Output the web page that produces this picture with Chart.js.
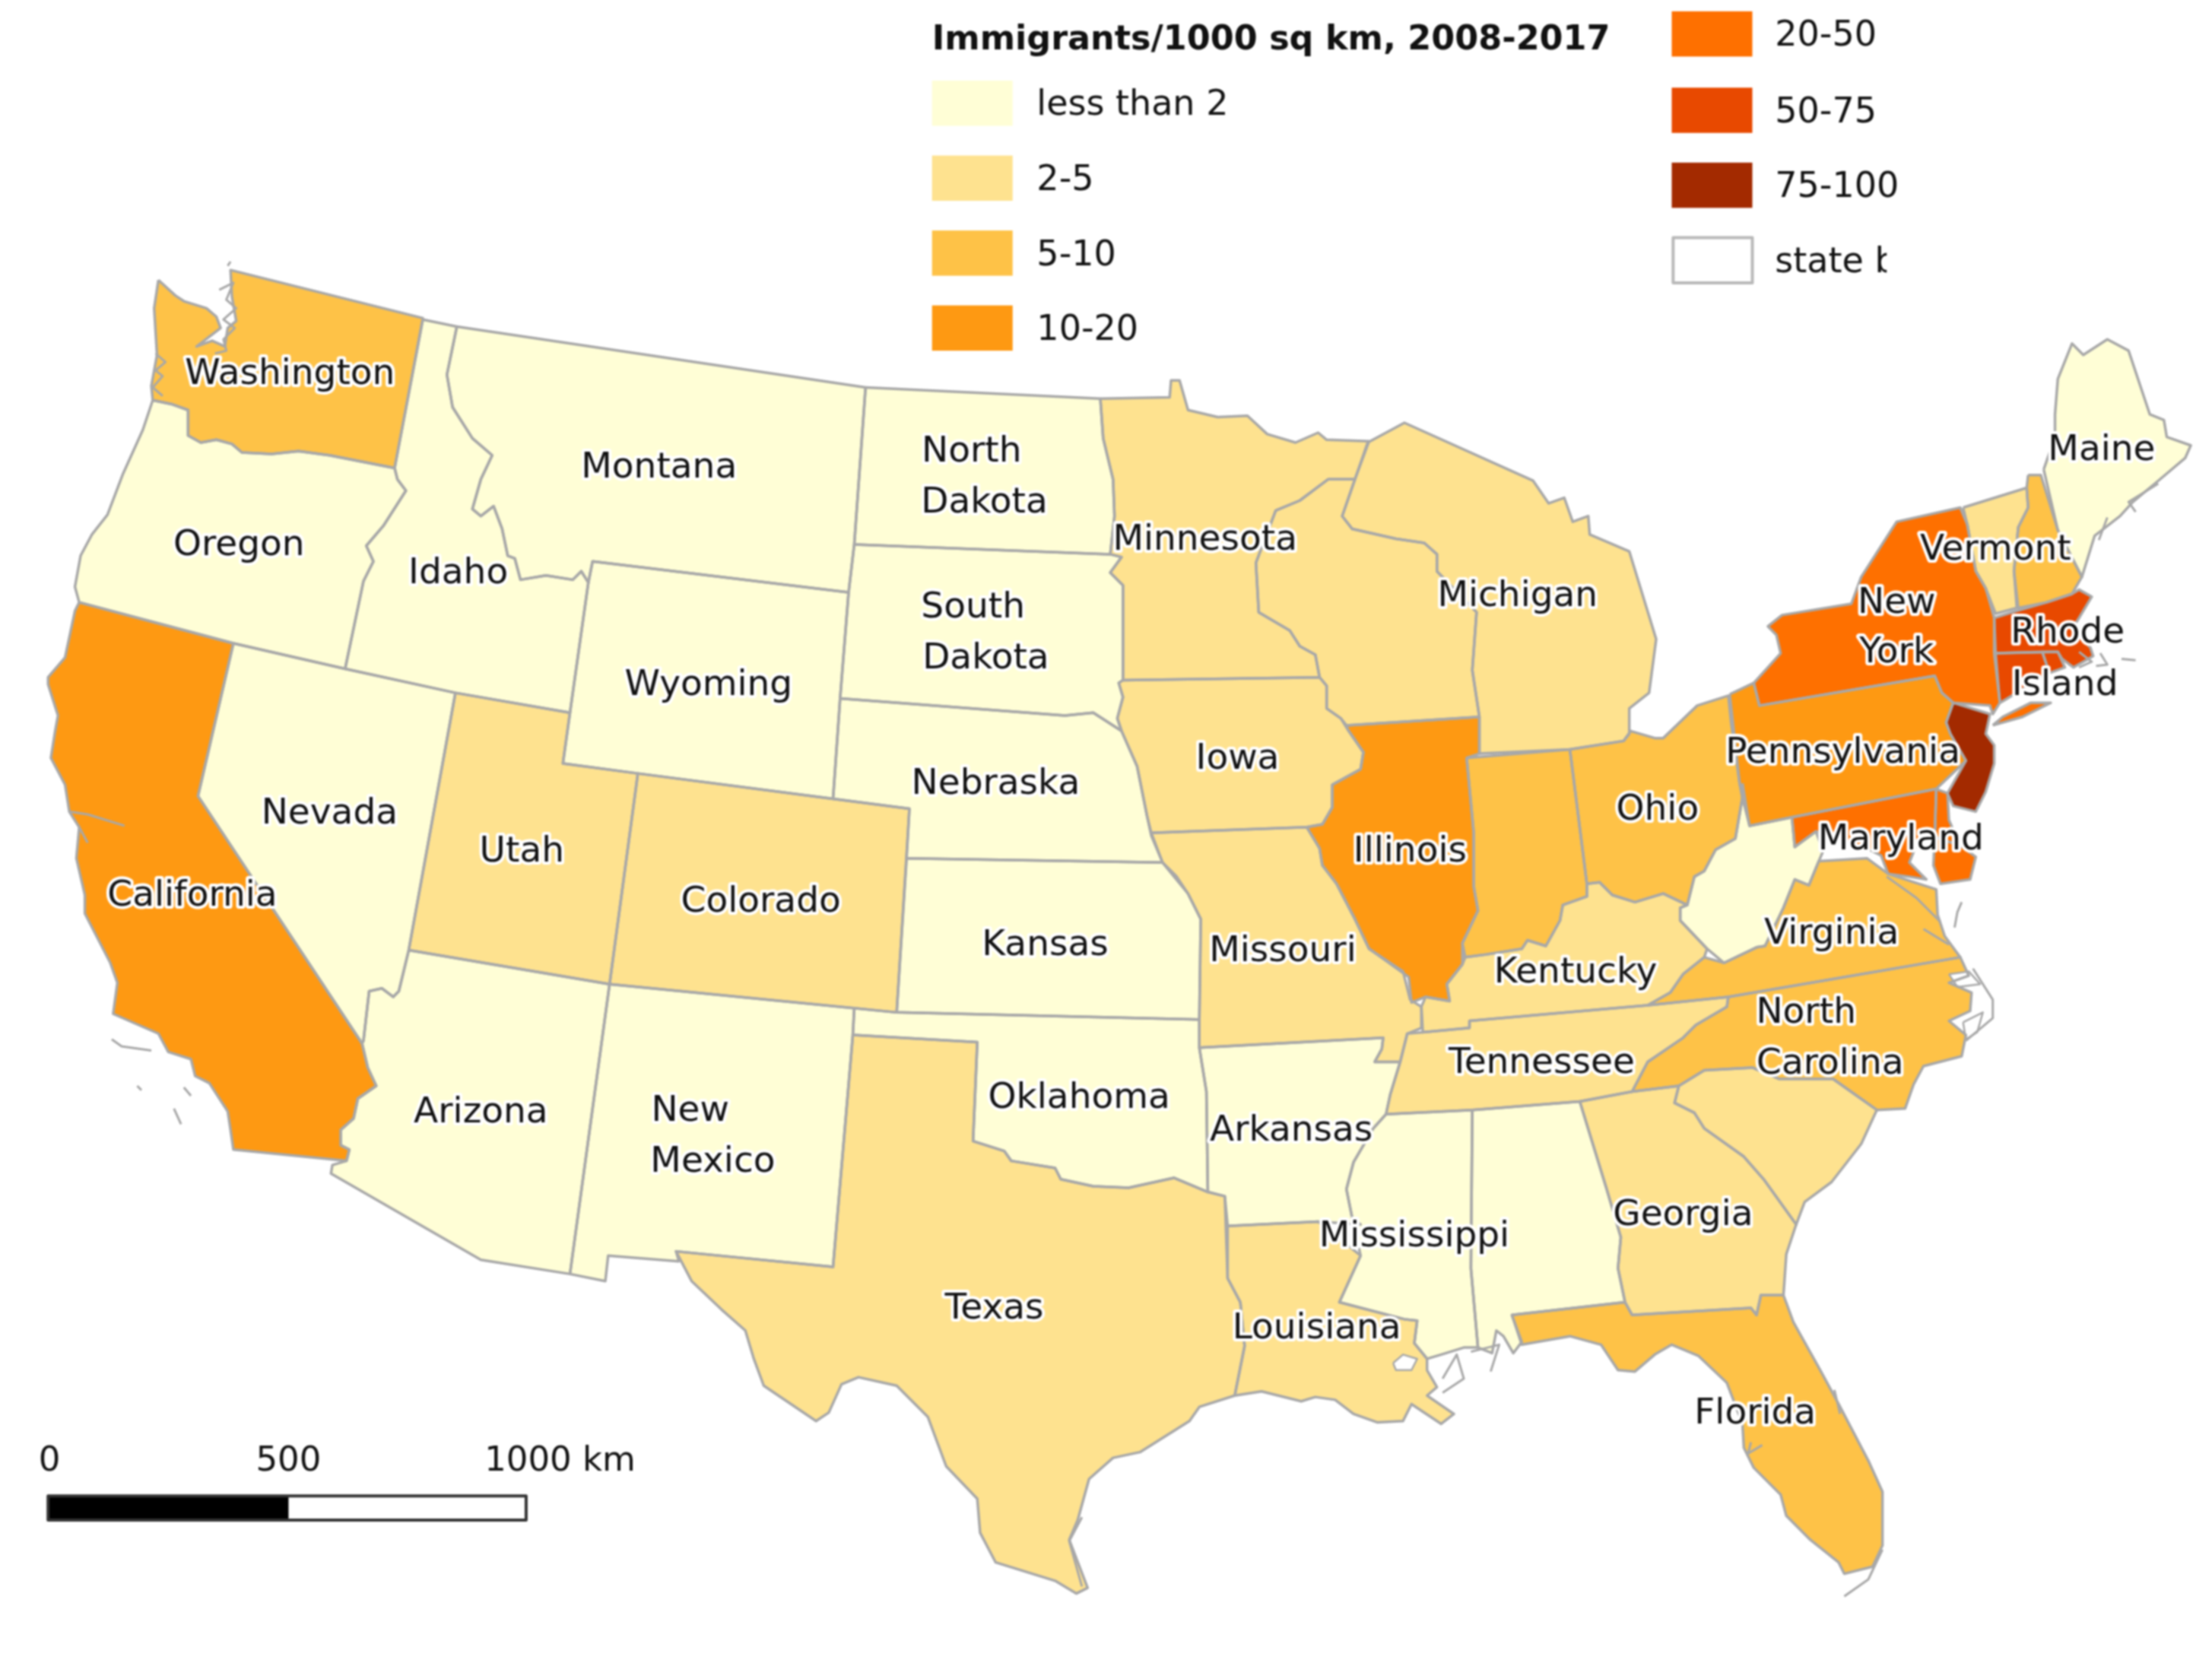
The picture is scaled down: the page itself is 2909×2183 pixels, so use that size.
<!DOCTYPE html>
<html>
<head>
<meta charset="utf-8">
<title>Immigrants/1000 sq km, 2008-2017</title>
<script src="https://cdn.jsdelivr.net/npm/chart.js@4/dist/chart.umd.min.js"></script>
<style>
html, body { margin: 0; padding: 0; background: #fff; }
canvas { display: block; filter: blur(1px); }
</style>
</head>
<body>
<canvas id="myChart" width="2909" height="2183" style="width:2909px;height:2183px"></canvas>
<script>
// legend classes
var classNames = ["less than 2", "2-5", "5-10", "10-20", "20-50", "50-75", "75-100"];
var classColors = ["#fffed6", "#fee28f", "#fec247", "#fe9912", "#fe7000", "#e84900", "#a32a00"];

// state outlines (map units, y down)
var washington = [[112,198],[124,209],[130,213],[146,218],[153,224],[156,232],[139,245],[150,241],[159,245],[161,232],[167,227],[164,210],[163,191],[299,225],[279,331],[233,322],[211,319],[192,321],[171,320],[164,314],[153,311],[142,313],[133,308],[133,290],[122,286],[108,283],[107,273],[111,251],[109,218]];
var oregon = [[108,283],[122,286],[133,290],[133,308],[142,313],[153,311],[164,314],[171,320],[192,321],[211,319],[233,322],[279,331],[281,339],[287,347],[271,372],[259,386],[264,397],[257,411],[244,473],[165,455],[56,426],[53,415],[57,393],[65,378],[76,364],[87,335],[101,304]];
var california = [[56,426],[165,455],[140,563],[256,738],[260,755],[266,768],[253,777],[250,791],[241,799],[241,810],[247,813],[245,821],[165,813],[163,799],[161,786],[148,766],[138,761],[135,749],[119,744],[112,731],[80,717],[83,695],[78,681],[60,646],[60,633],[54,607],[56,585],[49,574],[46,555],[36,536],[39,517],[41,506],[34,484],[34,479],[46,465],[53,432]];
var nevada = [[165,455],[244,473],[322,490],[289,672],[282,701],[278,705],[270,699],[261,701],[257,736],[256,738],[140,563]];
var idaho = [[299,226],[323,231],[316,265],[320,288],[334,310],[348,322],[340,339],[334,360],[340,365],[349,358],[355,374],[359,393],[364,395],[368,410],[386,407],[405,410],[411,404],[416,412],[403,504],[322,490],[244,473],[257,411],[264,397],[259,386],[271,372],[287,347],[281,339],[279,331]];
var montana = [[323,231],[612,274],[604,385],[600,419],[419,397],[416,412],[411,404],[405,410],[386,407],[368,410],[364,395],[359,393],[355,374],[349,358],[340,365],[334,360],[340,339],[348,322],[334,310],[320,288],[316,265]];
var wyoming = [[419,397],[600,419],[594,494],[589,565],[451,547],[398,540],[403,504],[416,412]];
var utah = [[322,490],[403,504],[398,540],[451,547],[431,696],[289,672]];
var colorado = [[451,547],[589,565],[643,572],[634,716],[431,696]];
var arizona = [[289,672],[431,696],[403,901],[340,891],[234,830],[235,824],[245,821],[247,813],[241,810],[241,799],[250,791],[253,777],[266,768],[260,755],[256,738],[257,736],[261,701],[270,699],[278,705],[282,701]];
var newMexico = [[431,696],[604,713],[603,732],[589,896],[478,885],[480,892],[430,888],[428,906],[403,901]];
var texas = [[603,732],[691,737],[688,807],[710,814],[715,821],[746,826],[750,834],[773,839],[798,840],[830,833],[854,843],[866,846],[868,904],[877,921],[880,952],[873,987],[848,995],[841,1005],[806,1027],[787,1031],[770,1046],[762,1075],[756,1089],[769,1123],[761,1127],[746,1118],[704,1105],[693,1084],[691,1060],[669,1037],[656,1002],[634,980],[607,974],[595,979],[586,999],[577,1005],[540,980],[533,961],[527,941],[510,926],[489,906],[478,885],[589,896]];
var oklahoma = [[604,713],[634,716],[848,721],[848,741],[853,772],[854,843],[830,833],[798,840],[773,839],[750,834],[746,826],[715,821],[710,814],[688,807],[691,737],[603,732]];
var kansas = [[641,607],[822,610],[832,620],[840,632],[849,650],[848,721],[634,716]];
var northDakota = [[612,274],[778,282],[780,310],[787,339],[788,365],[785,392],[604,385]];
var southDakota = [[604,385],[785,392],[793,394],[785,405],[794,414],[794,481],[791,483],[794,493],[790,508],[793,517],[773,504],[753,506],[594,494],[600,419]];
var nebraska = [[594,494],[753,506],[773,504],[793,517],[804,542],[811,577],[814,591],[822,610],[641,607],[643,572],[589,565]];
var minnesota = [[778,282],[827,281],[828,269],[834,269],[840,290],[861,295],[882,294],[896,307],[916,313],[932,306],[938,311],[968,312],[958,339],[939,339],[919,354],[902,361],[888,398],[890,433],[912,446],[919,457],[930,463],[933,479],[794,481],[794,414],[785,405],[793,394],[785,392],[788,365],[787,339],[780,310]];
var wisconsin = [[939,339],[958,339],[949,365],[956,374],[987,381],[1007,384],[1016,392],[1016,404],[1044,433],[1041,474],[1046,507],[952,513],[948,508],[938,501],[938,485],[933,479],[930,463],[919,457],[912,446],[890,433],[888,398],[902,361],[919,354]];
var michigan = [[967,313],[993,299],[1084,340],[1095,356],[1106,352],[1112,369],[1123,365],[1124,378],[1152,390],[1171,452],[1166,490],[1152,501],[1152,519],[1148,524],[1110,530],[1046,533],[1046,507],[1041,474],[1044,433],[1016,404],[1016,392],[1007,384],[987,381],[956,374],[949,365],[958,339]];
var iowa = [[794,481],[933,479],[938,485],[938,501],[948,508],[953,516],[964,532],[962,544],[942,555],[942,571],[935,583],[924,585],[814,589],[811,577],[804,542],[793,517],[790,508],[794,493],[791,483]];
var missouri = [[814,589],[924,585],[933,600],[935,612],[945,625],[958,650],[968,671],[992,687],[997,707],[1005,712],[1005,727],[995,731],[990,751],[972,751],[977,742],[978,734],[848,741],[848,721],[849,650],[840,632],[822,610]];
var illinois = [[952,513],[1046,507],[1046,533],[1037,536],[1042,589],[1042,627],[1045,644],[1034,667],[1034,682],[1023,696],[1025,708],[1008,705],[998,709],[996,691],[968,671],[958,650],[945,625],[935,612],[933,600],[924,585],[935,583],[942,571],[942,555],[962,544],[964,532],[953,516]];
var indiana = [[1037,536],[1110,530],[1122,625],[1122,634],[1105,640],[1103,651],[1093,669],[1080,665],[1076,671],[1051,675],[1036,677],[1034,667],[1045,644],[1042,627],[1042,589]];
var ohio = [[1110,530],[1148,524],[1153,517],[1170,522],[1176,522],[1200,499],[1222,492],[1224,511],[1230,554],[1232,564],[1227,593],[1213,601],[1205,616],[1198,620],[1193,640],[1176,632],[1156,638],[1140,633],[1131,624],[1122,625]];
var kentucky = [[1122,625],[1131,624],[1140,633],[1156,638],[1176,632],[1193,640],[1188,642],[1188,651],[1207,671],[1205,677],[1190,689],[1181,702],[1165,711],[1039,722],[1039,727],[1006,730],[1005,712],[1008,705],[1025,708],[1023,696],[1034,682],[1036,677],[1051,675],[1076,671],[1080,665],[1093,669],[1103,651],[1105,640],[1122,634]];
var tennessee = [[1006,730],[1039,727],[1039,722],[1165,711],[1222,705],[1221,712],[1199,725],[1190,734],[1165,751],[1154,772],[1117,779],[1041,785],[980,788],[983,774],[990,751],[995,731]];
var northCarolina = [[1222,705],[1386,677],[1392,690],[1378,695],[1394,702],[1393,715],[1378,722],[1390,732],[1387,747],[1360,754],[1353,767],[1347,784],[1327,785],[1296,763],[1258,763],[1239,755],[1205,757],[1187,768],[1154,772],[1165,751],[1190,734],[1199,725],[1221,712]];
var southCarolina = [[1187,768],[1205,757],[1239,755],[1258,763],[1296,763],[1327,785],[1316,809],[1295,836],[1276,850],[1270,866],[1247,834],[1233,818],[1205,798],[1198,787],[1184,780]];
var georgia = [[1117,779],[1154,772],[1187,768],[1184,780],[1198,787],[1205,798],[1233,818],[1247,834],[1270,866],[1263,887],[1261,916],[1245,916],[1242,930],[1238,925],[1154,930],[1149,921],[1144,897],[1146,875],[1136,841]];
var alabama = [[1041,785],[1117,779],[1136,841],[1146,875],[1144,897],[1149,921],[1069,930],[1076,949],[1070,957],[1063,945],[1058,941],[1055,957],[1045,953],[1040,897]];
var mississippi = [[980,788],[1041,785],[1040,897],[1045,953],[1035,953],[1019,958],[1009,961],[1000,950],[1002,934],[993,933],[947,921],[962,888],[956,861],[952,841],[957,822],[971,798]];
var louisiana = [[868,867],[932,864],[962,888],[947,921],[993,933],[1002,934],[1000,950],[1009,961],[1009,969],[1016,981],[1009,987],[1028,1000],[1019,1007],[998,993],[992,1005],[974,1006],[957,1000],[944,990],[930,988],[920,991],[892,984],[873,987],[880,952],[877,921],[868,904]];
var arkansas = [[848,741],[978,734],[977,742],[972,751],[990,751],[983,774],[980,788],[971,798],[957,822],[952,841],[956,861],[962,866],[932,864],[868,867],[866,846],[854,843],[853,772]];
var florida = [[1069,930],[1149,921],[1154,930],[1238,925],[1242,930],[1245,916],[1261,916],[1268,935],[1287,969],[1300,993],[1321,1033],[1331,1055],[1331,1093],[1324,1108],[1304,1113],[1300,1105],[1280,1089],[1263,1072],[1259,1057],[1240,1038],[1233,1024],[1232,1007],[1221,978],[1201,959],[1182,951],[1170,958],[1156,970],[1144,969],[1132,951],[1110,945],[1076,951]];
var virginia = [[1165,711],[1181,702],[1190,689],[1205,677],[1219,681],[1242,670],[1248,669],[1261,642],[1269,622],[1279,626],[1286,609],[1320,607],[1335,618],[1369,629],[1370,647],[1375,662],[1386,677],[1222,705]];
var westVirginia = [[1232,554],[1237,584],[1267,578],[1269,599],[1284,588],[1289,602],[1286,609],[1279,626],[1269,622],[1261,642],[1248,669],[1242,670],[1219,681],[1207,671],[1188,651],[1188,642],[1193,640],[1198,620],[1205,616],[1213,601],[1227,593],[1232,564]];
var pennsylvania = [[1223,491],[1240,483],[1244,499],[1368,478],[1373,490],[1381,497],[1376,511],[1379,519],[1390,538],[1369,558],[1267,578],[1237,584],[1232,564],[1230,554]];
var newYork = [[1240,483],[1259,462],[1256,449],[1250,443],[1260,435],[1309,427],[1316,408],[1341,369],[1386,359],[1391,371],[1397,404],[1404,416],[1410,437],[1410,462],[1414,497],[1409,505],[1407,499],[1381,497],[1373,490],[1368,478],[1244,499]];
var longIsland = [[1409,513],[1416,507],[1436,497],[1450,497],[1430,507]];
var vermont = [[1388,359],[1433,345],[1434,359],[1427,373],[1424,404],[1426,430],[1411,434],[1404,416],[1397,404],[1391,371]];
var newHampshire = [[1434,336],[1443,336],[1455,375],[1472,408],[1465,420],[1447,426],[1427,430],[1424,404],[1427,373],[1434,359],[1433,345]];
var maine = [[1445,332],[1453,309],[1453,293],[1455,268],[1465,243],[1473,251],[1490,240],[1505,248],[1520,293],[1530,297],[1532,309],[1549,315],[1545,324],[1526,340],[1508,355],[1499,365],[1481,379],[1472,408],[1455,375]];
var massachusetts = [[1410,437],[1426,432],[1447,426],[1465,420],[1470,417],[1479,422],[1470,437],[1465,445],[1478,458],[1480,464],[1466,472],[1458,466],[1455,461],[1411,462]];
var connecticut = [[1411,462],[1444,461],[1449,476],[1416,496],[1414,497]];
var rhodeIsland = [[1444,461],[1455,461],[1460,472],[1449,476]];
var newJersey = [[1381,497],[1407,505],[1404,519],[1410,527],[1410,540],[1404,560],[1397,574],[1381,570],[1377,561],[1390,538],[1379,519],[1376,511]];
var delaware = [[1369,558],[1377,561],[1378,580],[1386,598],[1368,592]];
var maryland = [[1267,578],[1369,558],[1368,592],[1358,590],[1350,610],[1362,622],[1350,620],[1335,618],[1330,605],[1320,600],[1284,588],[1269,599]];
var marylandShore = [[1368,592],[1386,598],[1397,606],[1393,622],[1372,625],[1367,612]];

var stateOutlines = [washington, oregon, california, nevada, idaho, montana, wyoming, utah, colorado, arizona, newMexico, texas, oklahoma, kansas, northDakota, southDakota, nebraska, minnesota, wisconsin, michigan, iowa, missouri, illinois, indiana, ohio, kentucky, tennessee, northCarolina, southCarolina, georgia, alabama, mississippi, louisiana, arkansas, florida, virginia, westVirginia, pennsylvania, newYork, longIsland, vermont, newHampshire, maine, massachusetts, connecticut, rhodeIsland, newJersey, delaware, maryland, marylandShore];
// class index per outline, same order as above
var stateClasses = [2, 0, 3, 0, 0, 0, 0, 1, 1, 0, 0, 1, 0, 0, 0, 0, 0, 1, 1, 1, 1, 1, 3, 2, 2, 1, 1, 2, 1, 1, 0, 0, 1, 0, 2, 2, 0, 3, 4, 4, 1, 2, 0, 5, 5, 5, 6, 4, 4, 4];

// lakes and sounds that stay white
var waterBodies = [
  [[985,964],[992,958],[1002,961],[998,969],[987,969]],
  [[1378,689],[1392,687],[1400,696],[1384,698]],
  [[1388,723],[1402,716],[1398,730],[1390,735]]
];
// thin grey shoreline bits: sounds, bays, outer banks, islands
var shoreLines = [
  [[155,205],[165,200],[160,212],[167,218],[158,226],[166,232],[158,240],[160,248],[152,250]],
  [[163,185],[161,188]],
  [[110,250],[117,256],[110,262],[115,266],[108,274],[115,280]],
  [[49,574],[62,576],[88,584]],[[56,585],[62,596]],
  [[79,735],[86,740],[107,743]],[[97,768],[100,771]],[[130,769],[135,775]],[[123,784],[128,795]],
  [[1395,685],[1409,707],[1409,720],[1390,736]],
  [[1387,638],[1384,645],[1382,656]],
  [[1334,620],[1355,635],[1372,652]],[[1360,657],[1378,668]],
  [[1470,461],[1479,468],[1470,472]],[[1485,462],[1490,470],[1482,471]],[[1500,466],[1510,467]],
  [[1526,342],[1505,355],[1510,362]],[[1490,366],[1484,382]],
  [[765,1073],[756,1090],[765,1122]],
  [[1040,956],[1060,951],[1054,970]],[[1020,975],[1030,958],[1035,975],[1020,985]],
  [[1297,983],[1301,1000]],[[1238,1020],[1236,1028],[1246,1022]],[[1331,1096],[1321,1117],[1304,1129]]
];

// state names with the map position of each text line
var labelTexts = ["Washington","Oregon","Idaho","Montana","North","Dakota","South","Dakota","Wyoming","Nevada","Utah","Colorado","California","Nebraska","Kansas","Minnesota","Iowa","Missouri","Illinois","Michigan","Arizona","New","Mexico","Oklahoma","Texas","Arkansas","Louisiana","Mississippi","Georgia","Florida","Tennessee","Kentucky","Ohio","Pennsylvania","Maryland","Virginia","North","Carolina","New","York","Vermont","Maine","Rhode","Island"];
var labelX = [205,169,324,466,687,696,688,697,501,233,369,538,136,704,739,852,875,907,997,1073,340,488,504,763,703,913,931,1000,1190,1241,1090,1114,1172,1303,1344,1295,1277,1294,1341,1341,1411,1486,1462,1460];
var labelY = [265,386,406,331,320,356,430,466,485,576,603,638,634,555,669,382,537,673,603,422,787,786,822,777,926,800,940,875,860,1000,752,688,573,533,594,661,717,753,427,462,389,319,448,485];

var legendTitle = "Immigrants/1000 sq km, 2008-2017";
var boundaryLabel = "state b";
var scaleLabels = ["0", "500", "1000 km"];

function toPoints(pairs) {
  var pts = pairs.map(function (p) { return {x: p[0], y: p[1]}; });
  pts.push({x: pairs[0][0], y: pairs[0][1]});
  return pts;
}

var datasets = [];

waterBodies.forEach(function (w) {
  datasets.push({data: toPoints(w), showLine: true, fill: "shape", backgroundColor: "#ffffff",
    borderColor: "#a8a8a8", borderWidth: 2.5, pointRadius: 0, borderJoinStyle: "round"});
});
shoreLines.forEach(function (s) {
  datasets.push({data: s.map(function (p) { return {x: p[0], y: p[1]}; }), showLine: true, fill: false,
    borderColor: "#a8a8a8", borderWidth: 3, pointRadius: 0, borderJoinStyle: "round"});
});
stateOutlines.forEach(function (outline, i) {
  datasets.push({
    data: toPoints(outline),
    showLine: true,
    fill: "shape",
    backgroundColor: classColors[stateClasses[i]],
    borderColor: "#a8a8a8",
    borderWidth: 3.5,
    borderJoinStyle: "round",
    pointRadius: 0
  });
});

var FONT = '"DejaVu Sans"';

function text(ctx, str, px, py, size, bold) {
  ctx.font = (bold ? "bold " : "") + size + "px " + FONT;
  ctx.fillText(str, px, py);
}

var mapText = {
  id: "mapText",
  afterDraw: function (chart) {
    var ctx = chart.ctx, xs = chart.scales.x, ys = chart.scales.y;
    var X = function (v) { return xs.getPixelForValue(v); };
    var Y = function (v) { return ys.getPixelForValue(v); };
    ctx.save();
    ctx.textBaseline = "middle";
    ctx.textAlign = "center";
    ctx.lineJoin = "round";

    // state names with white halo
    ctx.font = "47px " + FONT;
    labelTexts.forEach(function (t, i) {
      ctx.strokeStyle = "#ffffff";
      ctx.lineWidth = 8;
      ctx.strokeText(t, X(labelX[i]), Y(labelY[i]));
      ctx.fillStyle = "#111111";
      ctx.fillText(t, X(labelX[i]), Y(labelY[i]));
    });

    // legend
    ctx.fillStyle = "#111111";
    ctx.textAlign = "left";
    text(ctx, legendTitle, X(659), Y(29), 44.5, true);
    var rowY = [73, 126, 179, 232, 24, 78, 131];
    classNames.forEach(function (name, i) {
      var colX = i < 4 ? 659 : 1182;
      ctx.fillStyle = classColors[i];
      ctx.fillRect(X(colX), Y(rowY[i] - 16), X(57) - X(0), Y(32) - Y(0));
      ctx.fillStyle = "#111111";
      text(ctx, name, X(i < 4 ? 733 : 1255), Y(rowY[i] + 2), 46);
    });
    ctx.strokeStyle = "#b8b8b8";
    ctx.lineWidth = 4;
    ctx.strokeRect(X(1183), Y(168), X(56) - X(0), Y(32) - Y(0));
    ctx.fillStyle = "#111111";
    ctx.save();
    ctx.beginPath();
    ctx.rect(X(1250), Y(160), X(84), Y(50));
    ctx.clip();
    text(ctx, boundaryLabel, X(1255), Y(186), 46);
    ctx.restore();

    // scale bar
    ctx.fillStyle = "#000000";
    ctx.fillRect(X(34), Y(1058), X(170) - X(0), Y(17) - Y(0));
    ctx.strokeStyle = "#333333";
    ctx.lineWidth = 4;
    ctx.strokeRect(X(34), Y(1058), X(338) - X(0), Y(17) - Y(0));
    ctx.fillStyle = "#111111";
    ctx.textAlign = "center";
    text(ctx, scaleLabels[0], X(35), Y(1034), 45);
    text(ctx, scaleLabels[1], X(204), Y(1034), 45);
    text(ctx, scaleLabels[2], X(396), Y(1034), 45);
    ctx.restore();
  }
};

var chart = new Chart(document.getElementById("myChart").getContext("2d"), {
  type: "scatter",
  data: {datasets: datasets},
  options: {
    responsive: false,
    animation: false,
    devicePixelRatio: 1,
    layout: {padding: 0},
    elements: {line: {tension: 0}},
    plugins: {
      legend: {display: false},
      tooltip: {enabled: false},
      filler: {drawTime: "beforeDatasetsDraw"}
    },
    scales: {
      x: {type: "linear", display: false, min: 0, max: 1564},
      y: {type: "linear", display: false, min: 0, max: 1174, reverse: true}
    }
  },
  plugins: [mapText]
});
</script>
</body>
</html>
